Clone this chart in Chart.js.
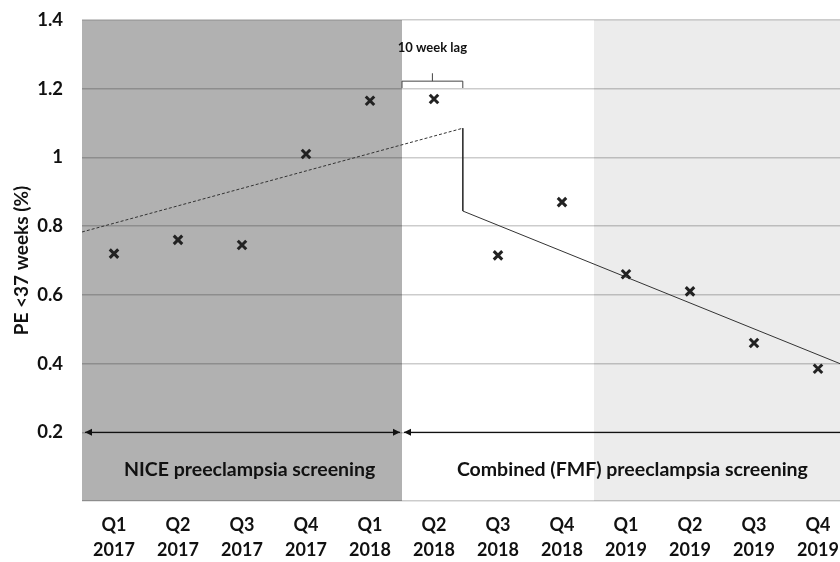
<!DOCTYPE html>
<html>
<head>
<meta charset="utf-8">
<script src="https://cdn.jsdelivr.net/npm/chart.js@4.4.1/dist/chart.umd.min.js"></script>
<style>
  html, body { margin: 0; padding: 0; background: #fff; overflow: hidden; }
  #wrap { width: 860px; height: 562px; }
</style>
</head>
<body>
<div id="wrap"><canvas id="chart"></canvas></div>
<script>
// quarters along the x axis
const quarters = ['Q1', 'Q2', 'Q3', 'Q4', 'Q1', 'Q2', 'Q3', 'Q4', 'Q1', 'Q2', 'Q3', 'Q4']
const years = ['2017', '2017', '2017', '2017', '2018', '2018', '2018', '2018', '2019', '2019', '2019', '2019']

// PE <37 weeks (%) per quarter
const peRate = [0.72, 0.76, 0.745, 1.01, 1.165, 1.17, 0.715, 0.87, 0.66, 0.61, 0.46, 0.385]

// fitted trends (x in quarter index units)
const trendNiceX = [-0.5, 5.45]
const trendNiceY = [0.783, 1.085]
const trendFmfX = [5.45, 5.45, 11.5]
const trendFmfY = [1.085, 0.844, 0.388]

// phases
const niceEnd = 4.5      // NICE screening ends after Q1 2018
const lagEnd = 5.45      // 10 week lag
const shadeStart = 7.5   // light band from Q1 2019
const phaseLabels = ['NICE preeclampsia screening', 'Combined (FMF) preeclampsia screening']
const phaseLabelX = [2.12, 8.1]

const FONT = 'Lato, "Open Sans", sans-serif'
const INK = '#111'

const toPoints = (xs, ys) => xs.map((x, i) => ({x: x, y: ys[i]}))

const backgroundPlugin = {
    id: 'phaseBands',
    beforeDraw(chart) {
        const {ctx, chartArea: a, scales: {x}} = chart
        ctx.save()
        ctx.fillStyle = '#b1b1b1'
        ctx.fillRect(a.left, a.top, x.getPixelForValue(niceEnd) - a.left, a.bottom - a.top)
        ctx.fillStyle = '#ececec'
        const s = x.getPixelForValue(shadeStart)
        ctx.fillRect(s, a.top, a.right - s, a.bottom - a.top)
        ctx.restore()
    }
}

const arrowHead = (ctx, px, py, dir) => {
    ctx.beginPath()
    ctx.moveTo(px, py)
    ctx.lineTo(px - dir * 7, py - 3.5)
    ctx.lineTo(px - dir * 7, py + 3.5)
    ctx.closePath()
    ctx.fill()
}

const annotationPlugin = {
    id: 'annotations',
    afterDatasetsDraw(chart) {
        const {ctx, chartArea: a, scales: {x, y}} = chart
        ctx.save()
        ctx.strokeStyle = '#111'
        ctx.fillStyle = '#111'
        ctx.lineWidth = 1.2

        // phase arrows at 0.2
        const ay = y.getPixelForValue(0.2)
        const l1 = a.left + 3
        const r1 = x.getPixelForValue(niceEnd) - 2
        const l2 = x.getPixelForValue(niceEnd) + 2
        ctx.beginPath()
        ctx.moveTo(l1, ay); ctx.lineTo(r1, ay)
        ctx.moveTo(l2, ay); ctx.lineTo(a.right, ay)
        ctx.stroke()
        arrowHead(ctx, l1, ay, -1)
        arrowHead(ctx, r1, ay, 1)
        arrowHead(ctx, l2, ay, -1)

        // phase labels
        ctx.font = 'bold 19.5px ' + FONT
        ctx.textAlign = 'center'
        ctx.textBaseline = 'middle'
        const ty = y.getPixelForValue(0.09)
        phaseLabels.forEach((t, i) => ctx.fillText(t, x.getPixelForValue(phaseLabelX[i]), ty))

        // 10 week lag bracket
        const bl = x.getPixelForValue(niceEnd)
        const br = x.getPixelForValue(lagEnd)
        const bm = (bl + br) / 2
        const bTop = y.getPixelForValue(1.222)
        const bBot = y.getPixelForValue(1.202)
        ctx.lineWidth = 1
        ctx.strokeStyle = '#444'
        ctx.beginPath()
        ctx.moveTo(bl, bBot); ctx.lineTo(bl, bTop); ctx.lineTo(br, bTop); ctx.lineTo(br, bBot)
        ctx.moveTo(bm, bTop); ctx.lineTo(bm, y.getPixelForValue(1.245))
        ctx.stroke()
        ctx.font = 'bold 13px ' + FONT
        ctx.fillText('10 week lag', bm, y.getPixelForValue(1.318))
        ctx.restore()
    }
}

new Chart(document.getElementById('chart'), {
    type: 'scatter',
    data: {
        datasets: [
            {
                data: toPoints(quarters.map((q, i) => i), peRate),
                pointStyle: 'crossRot',
                pointRadius: 6,
                pointBorderWidth: 3,
                borderColor: '#222',
                backgroundColor: '#222',
                order: 0
            },
            {
                data: toPoints(trendNiceX, trendNiceY),
                showLine: true,
                pointRadius: 0,
                borderColor: '#333',
                borderWidth: 1,
                borderDash: [3, 2]
            },
            {
                data: toPoints(trendFmfX, trendFmfY),
                showLine: true,
                pointRadius: 0,
                borderColor: '#333',
                borderWidth: 1
            }
        ]
    },
    options: {
        responsive: true,
        maintainAspectRatio: false,
        animation: false,
        layout: {padding: {top: 20, right: 10, left: 0, bottom: 0}},
        plugins: {
            legend: {display: false},
            tooltip: {enabled: false}
        },
        scales: {
            x: {
                type: 'linear',
                min: -0.5,
                max: 11.5,
                afterBuildTicks: (scale) => {
                    scale.ticks = quarters.map((q, i) => ({value: i}))
                },
                afterFit: (scale) => { scale.height = 61 },
                grid: {display: false, drawTicks: false},
                border: {display: false},
                ticks: {
                    autoSkip: false,
                    maxRotation: 0,
                    padding: 12,
                    color: INK,
                    font: {family: FONT, size: 18, weight: 'bold', lineHeight: 1.39},
                    callback: (v) => [quarters[v], years[v]]
                }
            },
            y: {
                min: 0,
                max: 1.4,
                afterFit: (scale) => {
                    scale.width = 82
                    scale.paddingTop = 0
                    scale.paddingBottom = 0
                },
                grid: {color: 'rgba(0,0,0,0.2)', drawTicks: false, lineWidth: 1.5},
                border: {display: false},
                ticks: {
                    stepSize: 0.2,
                    padding: 19,
                    color: INK,
                    font: {family: FONT, size: 18.5, weight: 'bold'},
                    callback: (v) => v === 0 ? '' : Math.round(v * 10) / 10
                },
                title: {
                    display: true,
                    text: 'PE <37 weeks (%)',
                    color: INK,
                    padding: {top: 10, bottom: 0},
                    font: {family: FONT, size: 19, weight: 'bold'}
                }
            }
        }
    },
    plugins: [backgroundPlugin, annotationPlugin]
})
</script>
</body>
</html>
